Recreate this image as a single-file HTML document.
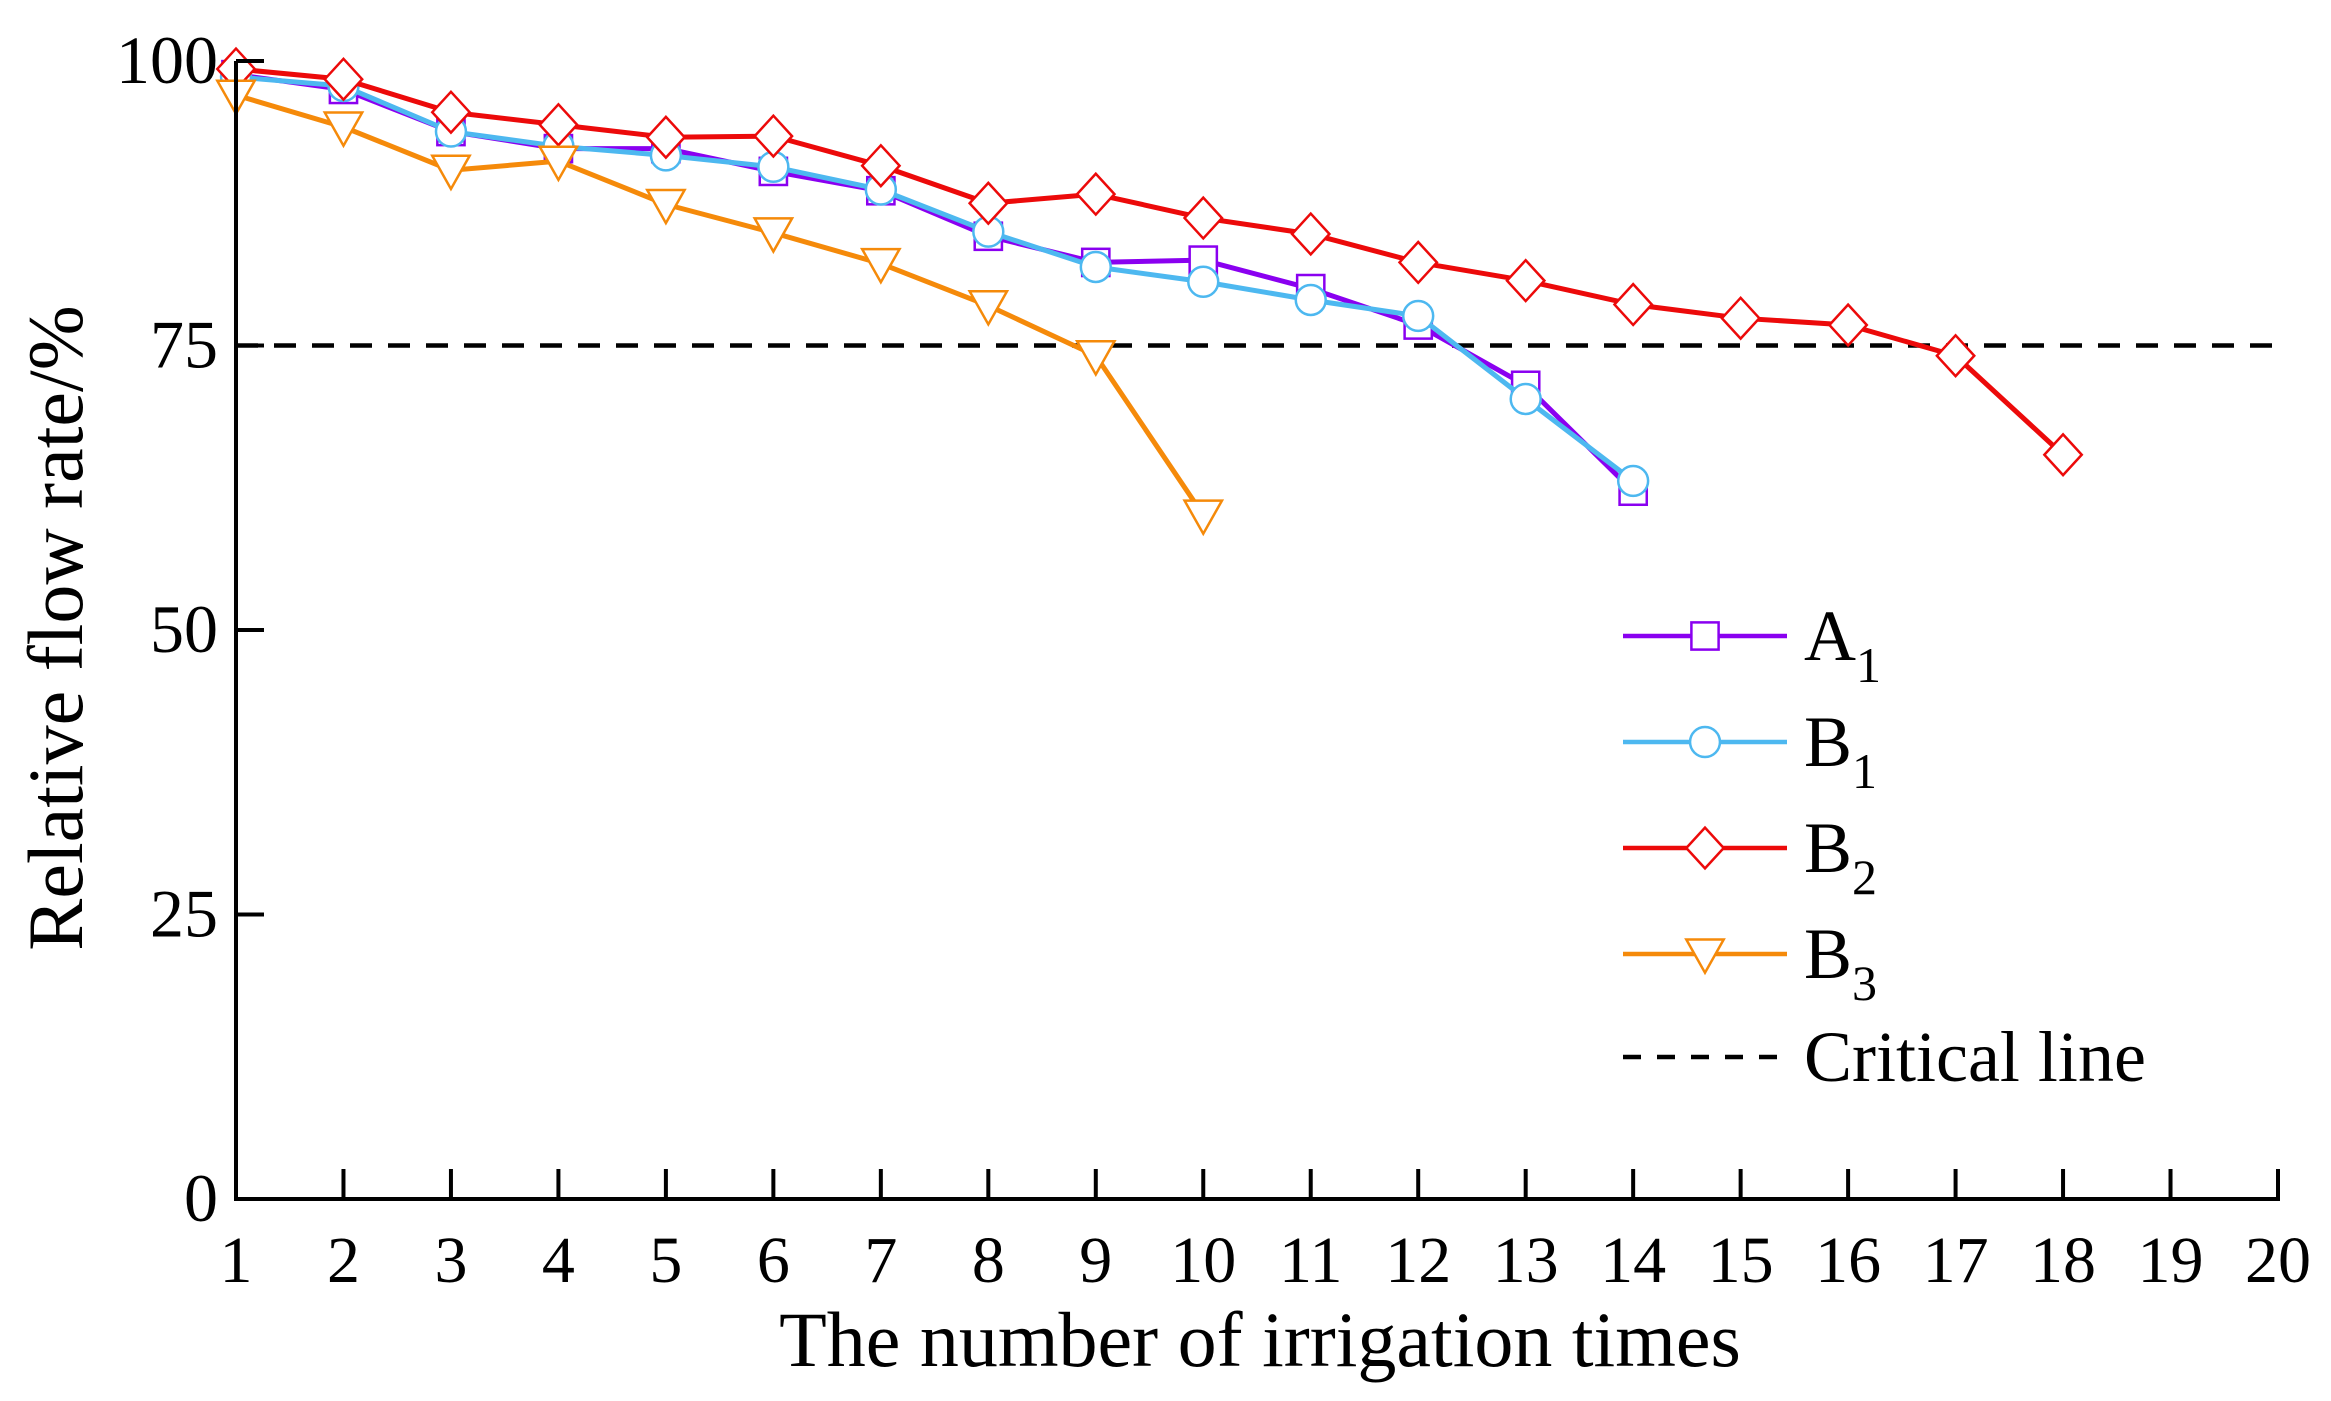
<!DOCTYPE html>
<html><head><meta charset="utf-8"><style>
html,body{margin:0;padding:0;background:#fff;}
svg{display:block;font-family:"Liberation Serif",serif;}
</style></head><body>
<svg id="chart" width="2331" height="1401" viewBox="0 0 2331 1401"></svg>
<script>
const xCats=[1,2,3,4,5,6,7,8,9,10,11,12,13,14,15,16,17,18,19,20];
const yTicks=[0,25,50,75,100];
const seriesNames=["A1","B1","B2","B3"];
const a1Values=[98.8,97.5,93.8,92.3,92.3,90.3,88.6,84.6,82.3,82.5,80.0,76.8,71.5,62.2];
const b1Values=[98.6,97.8,93.8,92.5,91.7,90.7,88.7,85.0,81.9,80.6,79.0,77.6,70.3,63.1];
const b2Values=[99.3,98.4,95.5,94.4,93.3,93.4,90.8,87.5,88.3,86.2,84.8,82.3,80.7,78.6,77.4,76.8,74.1,65.4];
const b3Values=[97.0,94.2,90.4,91.2,87.4,84.9,82.2,78.5,74.1,60.1];
const criticalValue=75;

const NS="http://www.w3.org/2000/svg";
const svg=document.getElementById('chart');
const X0=236,X1=2278,Y0=1199,Y1=61;
function xs(v){return X0+(v-1)/(20-1)*(X1-X0);}
function ys(v){return Y0-(v/100)*(Y0-Y1);}
function mk(tag,attrs,parent){const e=document.createElementNS(NS,tag);for(const k in attrs)e.setAttribute(k,attrs[k]);(parent||svg).appendChild(e);return e;}

const crit=mk('line',{x1:X0,x2:X1,y1:ys(criticalValue),y2:ys(criticalValue),stroke:'#000','stroke-width':4.5,'stroke-dasharray':'22,16'});



function marker(type,cx,cy,color,parent){
  const s=17;let e;
  if(type==='square')e=mk('rect',{x:cx-s*0.8,y:cy-s*0.8,width:s*1.6,height:s*1.6,fill:'#fff',stroke:color,'stroke-width':2.5},parent);
  else if(type==='circle')e=mk('circle',{cx:cx,cy:cy,r:s*0.88,fill:'#fff',stroke:color,'stroke-width':2.5},parent);
  else if(type==='diamond')e=mk('polygon',{points:`${cx},${cy-s*1.2} ${cx+s*1.1},${cy} ${cx},${cy+s*1.2} ${cx-s*1.1},${cy}`,fill:'#fff',stroke:color,'stroke-width':2.5},parent);
  else e=mk('polygon',{points:`${cx-s*1.1},${cy-s*0.85} ${cx+s*1.1},${cy-s*0.85} ${cx},${cy+s*1.1}`,fill:'#fff',stroke:color,'stroke-width':2.5},parent);
  return e;
}
const series=[
 {name:'a1',vals:a1Values,color:'#8a00f0',m:'square'},
 {name:'b1',vals:b1Values,color:'#4db8f0',m:'circle'},
 {name:'b2',vals:b2Values,color:'#ec0a0a',m:'diamond'},
 {name:'b3',vals:b3Values,color:'#f58a0a',m:'tri'}
];
series.forEach(s=>{
  const g=mk('g',{});
  
  
  const pts=s.vals.map((v,i)=>xs(xCats[i])+','+ys(v)).join(' ');
  const pl=mk('polyline',{points:pts,fill:'none',stroke:s.color,'stroke-width':5,'stroke-linejoin':'round'},g);
  
  
  s.vals.forEach((v,i)=>{
    const m=marker(s.m,xs(xCats[i]),ys(v),s.color,g);
    
    
  });
});

const ax=mk('g',{});


mk('line',{x1:X0,x2:X0,y1:Y1,y2:Y0+2,stroke:'#000','stroke-width':4},ax);
mk('line',{x1:X0-2,x2:X1+2,y1:Y0,y2:Y0,stroke:'#000','stroke-width':4},ax);
yTicks.forEach(t=>{
  mk('line',{x1:X0,x2:X0+28,y1:ys(t),y2:ys(t),stroke:'#000','stroke-width':4},ax);
  const tx=mk('text',{x:X0-18,y:ys(t)+22,'text-anchor':'end','font-size':68},ax);
  tx.textContent=t;
  
  
});
xCats.forEach(c=>{
  mk('line',{x1:xs(c),x2:xs(c),y1:Y0,y2:Y0-30,stroke:'#000','stroke-width':4},ax);
  const tx=mk('text',{x:xs(c),y:1282,'text-anchor':'middle','font-size':66},ax);
  tx.textContent=c;
  
  
});
const xt=mk('text',{x:1260,y:1366,'text-anchor':'middle','font-size':78});
xt.textContent='The number of irrigation times';


const yt=mk('text',{x:0,y:0,'text-anchor':'middle','font-size':78,transform:'translate(82,628) rotate(-90)'});
yt.textContent='Relative flow rate/%';



const lg=mk('g',{});


const legY=[636,742,848,954];
const subs=['1','1','2','3'];
const mains=['A','B','B','B'];
series.forEach((s,i)=>{
  const e=mk('g',{},lg);
  
  
  mk('line',{x1:1623,x2:1787,y1:legY[i],y2:legY[i],stroke:s.color,'stroke-width':4.5},e);
  marker(s.m,1705,legY[i],s.color,e);
  const t=mk('text',{x:1804,y:legY[i]+24,'font-size':72},e);
  t.textContent=mains[i];
  const sb=mk('tspan',{dy:22,'font-size':50},t);
  sb.textContent=subs[i];
});
const ce=mk('g',{},lg);


mk('line',{x1:1623,x2:1787,y1:1057,y2:1057,stroke:'#000','stroke-width':4.5,'stroke-dasharray':'18,16'},ce);
const ct=mk('text',{x:1804,y:1081,'font-size':72},ce);
ct.textContent='Critical line';
</script>
</body></html>
